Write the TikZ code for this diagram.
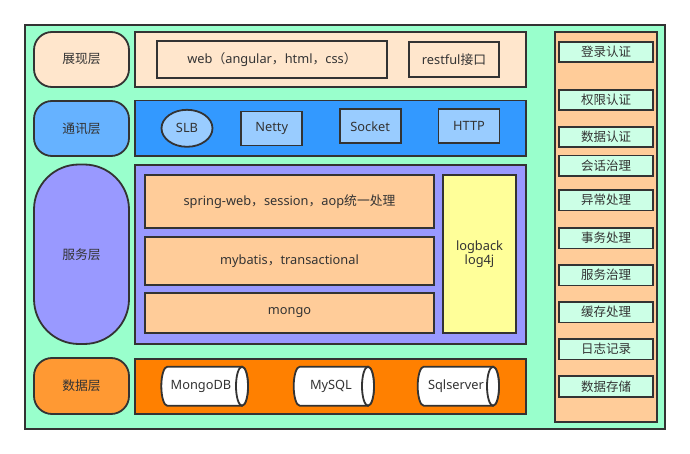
\documentclass[tikz,border=0pt]{standalone}
\usepackage{fontspec}
\setmainfont{Noto Sans}
\newfontfamily\cjk{Noto Sans CJK SC}
\usetikzlibrary{shapes.geometric}
\definecolor{dk}{HTML}{333333}
\definecolor{mint}{HTML}{99FFCC}
\definecolor{peach}{HTML}{FFE6CC}
\definecolor{bluelab}{HTML}{66B2FF}
\definecolor{bluepan}{HTML}{3399FF}
\definecolor{lightblue}{HTML}{99CCFF}
\definecolor{purple}{HTML}{9999FF}
\definecolor{orangelab}{HTML}{FF9933}
\definecolor{orangepan}{HTML}{FF8000}
\definecolor{tan}{HTML}{FFCC99}
\definecolor{yel}{HTML}{FFFF99}
\definecolor{itemfill}{HTML}{CCFFE6}
\tikzset{
  base/.style={draw=dk, line width=1.8pt, text=dk, font=\fontsize{12.8}{15.5}\selectfont, inner sep=0pt, rectangle},
  layerbox/.style={base, rounded corners=18pt, minimum width=95pt},
  itembox/.style={base, fill=itemfill, minimum width=94.3pt, minimum height=20.7pt, font=\cjk\fontsize{12.5}{15}\selectfont},
  techbox/.style={base, fill=lightblue, minimum width=61pt, minimum height=34pt},
  svcbox/.style={base, fill=tan, minimum width=289.6pt},
  cylbody/.style={draw=dk, line width=1.8pt, fill=white},
  lbl/.style={text=dk, font=\fontsize{12.8}{15.5}\selectfont, inner sep=0pt},
}
\begin{document}
\begin{tikzpicture}[x=1pt,y=-1pt]
\fill[white] (0,0) rectangle (690,454);
\useasboundingbox (0,0) rectangle (690,454);
% outer frame
\node[base, fill=mint, minimum width=640pt, minimum height=404pt] (outer) at (345,227) {};
% left layer labels
\node[layerbox, fill=peach, minimum height=55pt] (zhanxian) at (81.5,59.5) {\cjk 展现层};
\node[layerbox, fill=bluelab, minimum height=55pt] (tongxun) at (81.5,128.5) {\cjk 通讯层};
\node[layerbox, fill=purple, minimum height=179.5pt, rounded corners=45pt] (fuwu) at (81.5,254.25) {\cjk 服务层};
\node[layerbox, fill=orangelab, minimum height=56pt] (shuju) at (81.5,386) {\cjk 数据层};
% presentation panel
\node[base, fill=peach, minimum width=391pt, minimum height=55pt] (toppan) at (330.5,59.5) {};
\node[base, fill=peach, minimum width=230pt, minimum height=37pt] (web) at (272,59.5) {web{\cjk （}angular{\cjk ，}html{\cjk ，}css{\cjk ）}};
\node[base, fill=peach, minimum width=90pt, minimum height=35pt] (restful) at (454,59.5) {restful{\cjk 接口}};
% communication panel
\node[base, fill=bluepan, minimum width=391pt, minimum height=55.5pt] (compan) at (330.5,128.25) {};
\node[base, ellipse, fill=lightblue, minimum width=51pt, minimum height=37pt] (slb) at (187,128.3) {SLB};
\node[techbox] (netty) at (271.7,128.5) {Netty};
\node[techbox] (socket) at (370.2,126.3) {Socket};
\node[techbox] (http) at (469,126.3) {HTTP};
% service panel
\node[base, fill=purple, minimum width=391pt, minimum height=179.3pt] (svcpan) at (330.5,254.3) {};
\node[svcbox, minimum height=53pt] (spring) at (289.5,201.8) {spring-web{\cjk ，}session{\cjk ，}aop{\cjk 统一处理}};
\node[svcbox, minimum height=48.6pt] (mybatis) at (289.5,261) {mybatis{\cjk ，}transactional};
\node[svcbox, minimum height=40.6pt] (mongo) at (289.5,313) {mongo};
\node[base, fill=yel, minimum width=73.6pt, minimum height=158pt, align=center] (logback) at (479.5,254.3) {logback\\[-1pt]log4j};
% data panel
\node[base, fill=orangepan, minimum width=391pt, minimum height=55pt] (datapan) at (330.5,386.2) {};
% cylinders
\draw[cylbody] (167.3,366.7) -- (242,366.7) arc[start angle=90,end angle=-90,x radius=6pt,y radius=19.5pt] -- (167.3,405.7) arc[start angle=270,end angle=90,x radius=6pt,y radius=19.5pt] -- cycle;
\draw[cylbody] (242,386.2) ellipse[x radius=6pt,y radius=19.5pt];
\node[lbl] (mongodb) at (201,386.2) {MongoDB};
\draw[cylbody] (299.7,366.7) -- (368,366.7) arc[start angle=90,end angle=-90,x radius=6pt,y radius=19.5pt] -- (299.7,405.7) arc[start angle=270,end angle=90,x radius=6pt,y radius=19.5pt] -- cycle;
\draw[cylbody] (368,386.2) ellipse[x radius=6pt,y radius=19.5pt];
\node[lbl] (mysql) at (331,386.2) {MySQL};
\draw[cylbody] (423.7,366.7) -- (493,366.7) arc[start angle=90,end angle=-90,x radius=6pt,y radius=19.5pt] -- (423.7,405.7) arc[start angle=270,end angle=90,x radius=6pt,y radius=19.5pt] -- cycle;
\draw[cylbody] (493,386.2) ellipse[x radius=6pt,y radius=19.5pt];
\node[lbl] (sqlserver) at (456,386.2) {Sqlserver};
% right column
\node[base, fill=tan, minimum width=102.3pt, minimum height=390.6pt] (rightpan) at (606.2,227) {};
\node[itembox] (i1) at (606.2,52) {登录认证};
\node[itembox] (i2) at (606.2,100) {权限认证};
\node[itembox] (i3) at (606.2,137) {数据认证};
\node[itembox] (i4) at (606.2,165.85) {会话治理};
\node[itembox] (i5) at (606.2,200.2) {异常处理};
\node[itembox] (i6) at (606.2,238.2) {事务处理};
\node[itembox] (i7) at (606.2,275.2) {服务治理};
\node[itembox] (i8) at (606.2,312.2) {缓存处理};
\node[itembox] (i9) at (606.2,349.2) {日志记录};
\node[itembox] (i10) at (606.2,386.5) {数据存储};
\end{tikzpicture}
\end{document}
